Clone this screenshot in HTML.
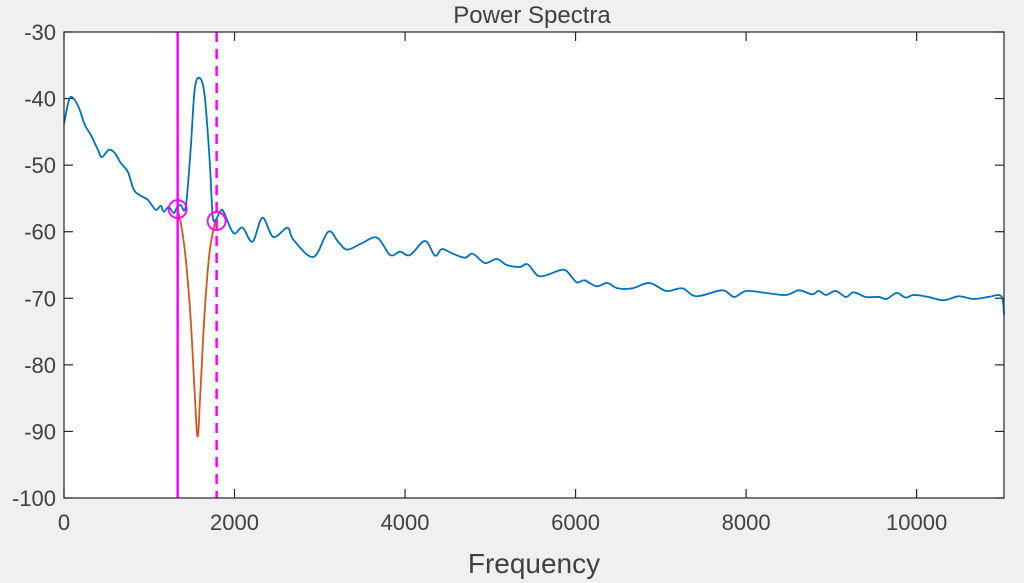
<!DOCTYPE html>
<html><head><meta charset="utf-8"><style>
html,body{margin:0;padding:0;background:#f0f0f0;}
svg{display:block;font-family:"Liberation Sans",sans-serif;}
</style></head><body>
<svg id="chart" width="1024" height="583" viewBox="0 0 1024 583" xmlns="http://www.w3.org/2000/svg">
<rect x="0" y="0" width="1024" height="583" fill="#f0f0f0"/>
<text x="532" y="23" text-anchor="middle" font-size="24" fill="#404040">Power Spectra</text>
<rect x="64" y="32" width="940" height="466" fill="#ffffff"/>
<g id="grid"></g>
<g id="series"></g>
<rect x="64" y="32" width="940" height="466" fill="none" stroke="#262626" stroke-width="1.2"/>
<text x="534" y="573" text-anchor="middle" font-size="28" fill="#404040">Frequency</text>
</svg>
<script>
const xTicks = [0, 2000, 4000, 6000, 8000, 10000];
const yTicks = [-30, -40, -50, -60, -70, -80, -90, -100];
const freqBlue = [0,58,105,175,246,316,398,444,526,596,667,749,819,900,982,1076,1135,1170,1228,1287,1322,1368,1427,1485,1532,1590,1649,1708,1743,1778,1836,1871,1988,2094,2211,2327,2456,2620,2690,2924,3099,3216,3322,3497,3673,3825,3942,4059,4234,4351,4433,4561,4702,4795,4936,5076,5193,5345,5439,5579,5813,5895,6012,6105,6246,6374,6491,6667,6866,7064,7252,7415,7719,7860,8000,8234,8468,8620,8772,8854,8936,9053,9170,9263,9404,9556,9649,9766,9871,9965,10140,10316,10491,10667,10842,10994,11025];
const dbBlue = [-43.8,-40.2,-39.9,-41.4,-44,-45.5,-47.7,-48.8,-47.7,-48.2,-49.7,-51,-53.7,-54.6,-55.2,-56.7,-56.1,-57,-56.3,-57.2,-56.4,-56,-56.3,-47.7,-38.7,-36.9,-39.5,-49.2,-57.5,-58.2,-56.9,-57.0,-60.2,-59.4,-61.5,-57.9,-60.8,-59.4,-61.2,-63.8,-60.0,-61.5,-62.7,-61.7,-60.9,-63.5,-63.0,-63.5,-61.4,-63.6,-62.6,-63.3,-63.9,-63.3,-64.7,-64.1,-65.0,-65.3,-64.9,-66.7,-65.8,-65.9,-67.6,-67.3,-68.2,-67.7,-68.5,-68.5,-67.7,-68.9,-68.5,-69.7,-68.8,-69.8,-68.9,-69.2,-69.5,-68.8,-69.4,-68.9,-69.5,-68.9,-69.8,-69.1,-69.8,-69.8,-70.1,-69.2,-69.9,-69.5,-69.8,-70.3,-69.7,-70.1,-69.8,-69.7,-72.5];
const freqOrange = [1322,1368,1427,1485,1532,1567,1600,1650,1708,1778];
const dbOrange = [-56.6,-58.5,-64,-73,-84,-90.8,-84,-72,-63,-58.2];
const markerFreqs = [1333, 1790];
const markerDb = [-56.6, -58.4];

const L=64,R=1004,T=32,B=498,XMAX=11025,YMIN=-100,YMAX=-30;
const sx=f=>L+(f/XMAX)*(R-L);
const sy=v=>T+(YMAX-v)/(YMAX-YMIN)*(B-T);
const NS="http://www.w3.org/2000/svg";
const svg=document.getElementById('chart');
const g=document.getElementById('grid');
const s=document.getElementById('series');
function mk(tag,attrs,parent){const e=document.createElementNS(NS,tag);for(const k in attrs)e.setAttribute(k,attrs[k]);parent.appendChild(e);return e;}

xTicks.forEach(t=>{
  const x=sx(t);
  const a=mk('line',{x1:x,x2:x,y1:B,y2:B-9,stroke:'#262626','stroke-width':1.2},g);
  
  
  const b=mk('line',{x1:x,x2:x,y1:T,y2:T+9,stroke:'#262626','stroke-width':1.2},g);
  
  
  const tx=mk('text',{x:x,y:B+32,'text-anchor':'middle','font-size':22,fill:'#404040'},svg);
  tx.textContent=t;
  
  
});
yTicks.forEach(t=>{
  const y=sy(t);
  const a=mk('line',{x1:L,x2:L+9,y1:y,y2:y,stroke:'#262626','stroke-width':1.2},g);
  
  
  const b=mk('line',{x1:R,x2:R-9,y1:y,y2:y,stroke:'#262626','stroke-width':1.2},g);
  
  
  const tx=mk('text',{x:L-8,y:y+8,'text-anchor':'end','font-size':22,fill:'#404040'},svg);
  tx.textContent=t;
  
  
});

function smooth(fs,vs){
  const p=fs.map((f,i)=>[sx(f),sy(vs[i])]);
  let d='M'+p[0][0]+','+p[0][1];
  for(let i=0;i<p.length-1;i++){
    const p0=p[i-1]||p[i],p1=p[i],p2=p[i+1],p3=p[i+2]||p2;
    const c1=[p1[0]+(p2[0]-p0[0])/6,p1[1]+(p2[1]-p0[1])/6];
    const c2=[p2[0]-(p3[0]-p1[0])/6,p2[1]-(p3[1]-p1[1])/6];
    d+=' C'+c1[0]+','+c1[1]+' '+c2[0]+','+c2[1]+' '+p2[0]+','+p2[1];
  }
  return d;
}
const orange=mk('path',{d:smooth(freqOrange,dbOrange),fill:'none',stroke:'#d95319','stroke-width':1.8},s);


const blue=mk('path',{d:smooth(freqBlue,dbBlue),fill:'none',stroke:'#0072bd','stroke-width':1.8},s);



const v1=mk('line',{x1:sx(markerFreqs[0]),x2:sx(markerFreqs[0]),y1:T,y2:B,stroke:'#ff00ff','stroke-width':2.5},s);


const v2=mk('line',{x1:sx(markerFreqs[1]),x2:sx(markerFreqs[1]),y1:T,y2:B,stroke:'#ff00ff','stroke-width':2.5,'stroke-dasharray':'10,7'},s);


markerFreqs.forEach((f,i)=>{
  const c=mk('circle',{cx:sx(f),cy:sy(markerDb[i]),r:9,fill:'none',stroke:'#ff00ff','stroke-width':1.8},s);
  
  
});
</script>
</body></html>
